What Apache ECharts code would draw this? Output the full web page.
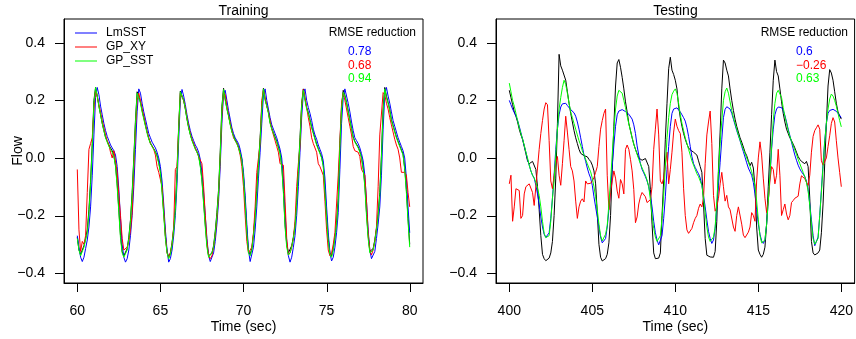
<!DOCTYPE html>
<html><head><meta charset="utf-8">
<script src="https://cdn.jsdelivr.net/npm/echarts@6/dist/echarts.min.js"></script>
<style>html,body{margin:0;padding:0;background:#fff}#c{width:856px;height:339px}</style>
</head><body><div id="c"></div>
<script>
const legendNames = ['LmSST', 'GP_XY', 'GP_SST'];
const panelTitles = ['Training', 'Testing'];
const rmseHeader = 'RMSE reduction';
const rmseTrain = [0.78, 0.68, 0.94];
const rmseTest = [0.6, -0.26, 0.63];
const xTicksTrain = [60, 65, 70, 75, 80];
const xTicksTest = [400, 405, 410, 415, 420];
const yTicks = [-0.4, -0.2, 0, 0.2, 0.4];
const trainStart = 60, testStart = 400, stepSec = 0.1;

const obsTrain = [
-0.275,-0.32,-0.335,-0.33,-0.305,-0.28,-0.25,-0.18,-0.08,0.05,
0.2,0.245,0.215,0.18,0.15,0.12,0.095,0.072,0.058,0.045,
0.035,0.025,0.008,-0.025,-0.09,-0.18,-0.27,-0.325,-0.34,-0.335,
-0.315,-0.275,-0.215,-0.12,0.0,0.13,0.23,0.235,0.195,0.165,
0.14,0.115,0.09,0.068,0.052,0.042,0.032,0.022,0.008,-0.015,
-0.045,-0.11,-0.19,-0.27,-0.325,-0.345,-0.33,-0.295,-0.245,-0.17,
-0.05,0.11,0.232,0.228,0.2,0.17,0.135,0.105,0.082,0.062,
0.048,0.033,0.022,0.008,-0.025,-0.075,-0.15,-0.23,-0.3,-0.34,
-0.345,-0.33,-0.305,-0.255,-0.19,-0.11,0.02,0.18,0.242,0.205,
0.172,0.148,0.118,0.093,0.078,0.063,0.053,0.038,0.018,-0.005,
-0.065,-0.15,-0.25,-0.325,-0.335,-0.315,-0.265,-0.2,-0.11,-0.02,
0.07,0.18,0.242,0.205,0.182,0.158,0.123,0.103,0.088,0.073,
0.058,0.038,0.018,-0.025,-0.11,-0.23,-0.3,-0.33,-0.325,-0.305,
-0.275,-0.235,-0.155,-0.04,0.07,0.19,0.24,0.205,0.175,0.158,
0.133,0.108,0.088,0.068,0.048,0.033,0.018,0.003,-0.025,-0.11,
-0.2,-0.28,-0.33,-0.34,-0.315,-0.275,-0.225,-0.14,0.05,0.18,
0.235,0.218,0.193,0.163,0.133,0.103,0.073,0.058,0.048,0.038,
0.023,0.003,-0.035,-0.09,-0.19,-0.27,-0.325,-0.33,-0.315,-0.285,
-0.245,-0.195,-0.12,0.01,0.17,0.245,0.215,0.193,0.168,0.133,
0.113,0.093,0.073,0.058,0.043,0.028,0.013,-0.035,-0.11,-0.21,
-0.3];
const lmsstTrain = [
-0.27,-0.31,-0.345,-0.36,-0.345,-0.315,-0.285,-0.24,-0.17,-0.06,
0.08,0.21,0.245,0.22,0.18,0.15,0.12,0.095,0.075,0.06,
0.045,0.035,0.025,0.01,-0.03,-0.11,-0.21,-0.3,-0.345,-0.362,
-0.35,-0.32,-0.27,-0.2,-0.1,0.03,0.16,0.24,0.225,0.19,
0.16,0.135,0.11,0.085,0.07,0.055,0.045,0.035,0.02,0.0,
-0.03,-0.08,-0.16,-0.25,-0.32,-0.362,-0.35,-0.32,-0.27,-0.2,
-0.09,0.06,0.2,0.238,0.215,0.185,0.15,0.12,0.095,0.075,
0.06,0.045,0.035,0.02,-0.005,-0.05,-0.12,-0.2,-0.28,-0.34,
-0.36,-0.355,-0.33,-0.29,-0.23,-0.15,-0.03,0.12,0.225,0.235,
0.2,0.165,0.135,0.105,0.085,0.07,0.065,0.05,0.03,0.0,
-0.05,-0.13,-0.23,-0.32,-0.36,-0.355,-0.31,-0.25,-0.17,-0.07,
0.02,0.12,0.22,0.24,0.2,0.17,0.14,0.115,0.1,0.085,
0.07,0.05,0.03,0.0,-0.07,-0.19,-0.29,-0.34,-0.362,-0.345,
-0.31,-0.27,-0.2,-0.1,0.02,0.14,0.225,0.24,0.2,0.175,
0.155,0.13,0.1,0.08,0.065,0.045,0.03,0.015,-0.01,-0.07,
-0.17,-0.26,-0.33,-0.358,-0.345,-0.31,-0.26,-0.19,-0.04,0.12,
0.21,0.24,0.235,0.19,0.16,0.125,0.095,0.07,0.06,0.05,
0.035,0.015,-0.01,-0.06,-0.15,-0.25,-0.32,-0.35,-0.355,-0.325,
-0.28,-0.23,-0.17,-0.06,0.1,0.22,0.245,0.215,0.19,0.16,
0.13,0.11,0.09,0.07,0.055,0.04,0.025,0.0,-0.07,-0.17,
-0.26];
const gpxyTrain = [
-0.04,-0.25,-0.325,-0.29,-0.3,-0.27,-0.12,0.03,0.05,0.07,
0.17,0.232,0.215,0.185,0.16,0.13,0.105,0.08,0.06,0.045,
0.02,0.0,0.025,0.02,-0.05,-0.13,-0.2,-0.28,-0.32,-0.32,
-0.31,-0.29,-0.25,-0.19,-0.04,0.1,0.2,0.225,0.2,0.17,
0.145,0.115,0.09,0.07,0.05,0.04,0.03,0.01,-0.03,-0.05,
-0.055,-0.1,-0.18,-0.27,-0.33,-0.345,-0.33,-0.3,-0.24,-0.04,
-0.03,0.1,0.225,0.23,0.2,0.175,0.14,0.11,0.085,0.065,
0.05,0.035,0.02,0.005,0.0,-0.02,-0.1,-0.2,-0.29,-0.34,
-0.35,-0.34,-0.31,-0.27,-0.21,-0.13,0.0,0.15,0.23,0.22,
0.18,0.15,0.12,0.095,0.07,0.06,0.05,0.035,0.01,-0.03,
-0.1,-0.2,-0.29,-0.33,-0.335,-0.31,-0.26,-0.17,-0.05,0.0,
0.05,0.2,0.238,0.21,0.18,0.16,0.13,0.1,0.08,0.06,
0.04,0.02,-0.02,-0.02,-0.025,-0.15,-0.28,-0.337,-0.33,-0.31,
-0.28,-0.22,-0.1,-0.02,0.04,0.18,0.238,0.21,0.175,0.14,
0.11,0.07,0.05,0.05,0.02,-0.02,-0.03,-0.03,-0.06,-0.15,
-0.25,-0.32,-0.34,-0.33,-0.3,-0.26,-0.16,-0.06,0.06,0.19,
0.227,0.2,0.17,0.14,0.11,0.08,0.04,0.025,0.02,0.02,
0.005,-0.04,-0.05,-0.06,-0.15,-0.26,-0.32,-0.337,-0.32,-0.29,
-0.24,-0.1,0.08,0.085,0.227,0.22,0.19,0.17,0.14,0.115,
0.09,0.065,0.045,0.03,0.0,-0.05,-0.05,-0.05,-0.06,-0.12,
-0.17];
const gpsstTrain = [
-0.28,-0.32,-0.34,-0.335,-0.31,-0.285,-0.26,-0.19,-0.09,0.04,
0.19,0.245,0.215,0.18,0.15,0.12,0.095,0.07,0.055,0.04,
0.03,0.02,0.005,-0.03,-0.1,-0.19,-0.28,-0.33,-0.345,-0.34,
-0.32,-0.28,-0.22,-0.13,-0.01,0.12,0.225,0.23,0.19,0.16,
0.135,0.11,0.085,0.065,0.05,0.04,0.03,0.02,0.005,-0.02,
-0.05,-0.12,-0.2,-0.28,-0.33,-0.35,-0.335,-0.3,-0.25,-0.18,
-0.06,0.1,0.23,0.225,0.2,0.17,0.135,0.105,0.08,0.06,
0.045,0.03,0.02,0.005,-0.03,-0.08,-0.16,-0.24,-0.31,-0.345,
-0.35,-0.33,-0.31,-0.26,-0.2,-0.12,0.01,0.17,0.238,0.2,
0.17,0.145,0.115,0.09,0.075,0.06,0.05,0.035,0.015,-0.01,
-0.07,-0.16,-0.26,-0.33,-0.34,-0.32,-0.27,-0.21,-0.12,-0.03,
0.06,0.17,0.24,0.2,0.18,0.155,0.12,0.1,0.085,0.07,
0.055,0.035,0.015,-0.03,-0.12,-0.24,-0.31,-0.337,-0.33,-0.31,
-0.28,-0.24,-0.16,-0.05,0.06,0.18,0.235,0.2,0.17,0.155,
0.13,0.105,0.085,0.065,0.045,0.03,0.015,0.0,-0.03,-0.12,
-0.21,-0.29,-0.335,-0.345,-0.32,-0.28,-0.23,-0.15,0.04,0.17,
0.228,0.215,0.19,0.16,0.13,0.1,0.07,0.055,0.045,0.035,
0.02,0.0,-0.04,-0.1,-0.2,-0.28,-0.33,-0.335,-0.32,-0.29,
-0.25,-0.2,-0.13,0.0,0.16,0.24,0.21,0.19,0.165,0.13,
0.11,0.09,0.07,0.055,0.04,0.025,0.01,-0.04,-0.12,-0.22,
-0.31];

const obsTest = [
0.235,0.21,0.185,0.16,0.145,0.125,0.1,0.08,0.065,0.04,
0.015,-0.01,-0.02,-0.02,-0.012,-0.008,-0.04,-0.1,-0.18,-0.27,
-0.335,-0.35,-0.357,-0.355,-0.348,-0.33,-0.29,-0.2,-0.07,0.12,
0.36,0.32,0.305,0.3,0.27,0.23,0.19,0.155,0.125,0.095,
0.07,0.05,0.03,0.016,0.012,0.008,0.006,0.004,-0.005,-0.012,
-0.025,-0.045,-0.09,-0.19,-0.3,-0.345,-0.358,-0.36,-0.35,-0.335,
-0.295,-0.2,-0.04,0.11,0.25,0.33,0.342,0.315,0.28,0.24,
0.195,0.16,0.12,0.095,0.07,0.048,0.03,0.015,0.0,-0.005,
-0.008,-0.01,-0.002,0.002,-0.03,-0.11,-0.23,-0.33,-0.35,-0.354,
-0.348,-0.33,-0.2,-0.08,0.065,0.19,0.31,0.35,0.305,0.29,
0.27,0.24,0.18,0.14,0.11,0.085,0.065,0.048,0.035,0.028,
0.022,0.02,0.02,0.01,-0.01,-0.03,-0.05,-0.16,-0.28,-0.338,
-0.342,-0.344,-0.347,-0.345,-0.325,-0.22,-0.04,0.09,0.24,0.34,
0.33,0.305,0.285,0.24,0.2,0.165,0.135,0.11,0.09,0.07,
0.055,0.038,0.02,0.008,-0.01,-0.027,-0.015,-0.035,-0.1,-0.24,
-0.32,-0.335,-0.345,-0.335,-0.31,-0.23,-0.1,0.02,0.15,0.27,
0.34,0.3,0.285,0.24,0.195,0.155,0.125,0.1,0.085,0.07,
0.06,0.048,0.035,0.02,0.005,-0.005,-0.012,-0.015,-0.02,-0.012,
-0.03,-0.14,-0.29,-0.33,-0.337,-0.335,-0.33,-0.32,-0.26,-0.16,
-0.02,0.12,0.25,0.307,0.295,0.27,0.23,0.19,0.16,0.146,
0.135];
const lmsstTest = [
0.2,0.185,0.17,0.158,0.146,0.13,0.11,0.088,0.065,0.042,
0.02,-0.005,-0.025,-0.045,-0.06,-0.07,-0.095,-0.125,-0.16,-0.205,
-0.24,-0.265,-0.276,-0.28,-0.26,-0.21,-0.14,-0.06,0.03,0.1,
0.15,0.177,0.188,0.192,0.19,0.182,0.176,0.168,0.162,0.157,
0.145,0.125,0.1,0.07,0.04,0.01,-0.012,-0.035,-0.055,-0.07,
-0.095,-0.135,-0.17,-0.205,-0.24,-0.275,-0.295,-0.3,-0.28,-0.24,
-0.18,-0.11,-0.03,0.045,0.11,0.15,0.163,0.169,0.168,0.164,
0.161,0.158,0.152,0.146,0.135,0.115,0.085,0.042,0.01,-0.02,
-0.04,-0.052,-0.065,-0.08,-0.1,-0.13,-0.17,-0.22,-0.26,-0.285,
-0.302,-0.305,-0.27,-0.21,-0.135,-0.04,0.04,0.11,0.155,0.17,
0.175,0.174,0.167,0.16,0.15,0.14,0.128,0.105,0.075,0.04,
0.005,-0.02,-0.033,-0.045,-0.055,-0.07,-0.095,-0.13,-0.17,-0.215,
-0.255,-0.28,-0.297,-0.285,-0.245,-0.17,-0.095,-0.015,0.065,0.14,
0.169,0.178,0.18,0.17,0.155,0.135,0.115,0.095,0.078,0.06,
0.04,0.022,0.003,-0.017,-0.035,-0.048,-0.06,-0.085,-0.125,-0.18,
-0.23,-0.265,-0.288,-0.297,-0.285,-0.23,-0.15,-0.065,0.03,0.1,
0.15,0.17,0.177,0.18,0.175,0.165,0.148,0.125,0.1,0.078,
0.055,0.032,0.01,-0.008,-0.025,-0.038,-0.048,-0.056,-0.065,-0.08,
-0.11,-0.16,-0.215,-0.27,-0.305,-0.31,-0.275,-0.2,-0.11,-0.02,
0.06,0.12,0.155,0.165,0.168,0.169,0.168,0.162,0.155,0.148,
0.14];
const gpxyTest = [
-0.09,-0.06,-0.22,-0.17,-0.107,-0.11,-0.113,-0.21,-0.2,-0.125,
-0.1,-0.095,-0.09,-0.085,-0.12,-0.165,-0.1,-0.035,0.03,0.085,
0.13,0.17,0.192,0.185,0.06,-0.08,-0.107,-0.06,-0.02,0.005,
-0.06,-0.095,-0.02,0.06,0.145,0.09,0.03,-0.03,-0.045,-0.08,
-0.15,-0.21,-0.17,-0.15,-0.142,-0.153,-0.08,-0.09,-0.095,-0.088,
-0.08,-0.068,-0.05,-0.03,0.04,0.1,0.13,0.155,0.17,-0.06,
-0.18,-0.12,-0.08,-0.045,-0.07,-0.115,-0.14,-0.075,-0.09,-0.125,
0.03,0.045,0.03,-0.005,-0.045,-0.11,-0.225,-0.205,-0.16,-0.135,
-0.12,-0.122,-0.135,-0.155,-0.158,-0.145,-0.1,0.03,0.1,0.17,
0.08,-0.08,-0.09,-0.07,-0.027,0.02,-0.09,-0.04,0.02,0.09,
0.135,0.11,0.095,0.085,0.02,-0.107,-0.2,-0.25,-0.262,-0.258,
-0.245,-0.225,-0.21,-0.2,-0.175,-0.16,-0.17,-0.14,-0.02,0.08,
0.125,0.163,0.05,-0.13,-0.185,-0.17,-0.14,-0.09,-0.05,-0.1,
-0.15,-0.13,-0.17,-0.18,-0.185,-0.24,-0.255,-0.2,-0.17,-0.175,
-0.23,-0.268,-0.277,-0.278,-0.258,-0.24,-0.19,-0.2,-0.22,-0.08,
0.0,0.056,0.01,-0.07,-0.14,-0.19,-0.15,-0.08,-0.03,-0.04,
-0.09,-0.06,0.03,-0.06,-0.2,-0.18,-0.16,-0.195,-0.215,-0.2,
-0.155,-0.148,-0.14,-0.135,-0.133,-0.09,-0.062,-0.065,-0.072,-0.085,
-0.095,-0.06,0.02,0.075,0.095,0.105,0.115,0.1,-0.01,-0.025,
-0.022,0.0,0.04,0.077,0.12,0.14,0.125,0.06,0.0,-0.05,
-0.1];
const gpsstTest = [
0.26,0.23,0.2,0.18,0.155,0.13,0.105,0.085,0.065,0.045,
0.02,0.0,-0.025,-0.045,-0.06,-0.07,-0.085,-0.105,-0.13,-0.17,
-0.22,-0.262,-0.277,-0.278,-0.27,-0.22,-0.14,-0.08,0.01,0.1,
0.17,0.21,0.245,0.27,0.255,0.225,0.19,0.16,0.14,0.12,
0.1,0.08,0.06,0.045,0.025,0.01,-0.005,-0.02,-0.035,-0.048,
-0.07,-0.1,-0.135,-0.18,-0.23,-0.27,-0.288,-0.29,-0.265,-0.235,
-0.16,-0.08,0.01,0.1,0.17,0.215,0.235,0.24,0.225,0.2,
0.175,0.145,0.118,0.095,0.07,0.048,0.03,0.012,-0.005,-0.02,
-0.035,-0.048,-0.06,-0.077,-0.1,-0.145,-0.2,-0.245,-0.275,-0.29,
-0.288,-0.27,-0.21,-0.13,-0.03,0.07,0.14,0.19,0.22,0.232,
0.24,0.225,0.19,0.15,0.12,0.095,0.07,0.05,0.03,0.01,
-0.01,-0.025,-0.04,-0.055,-0.065,-0.08,-0.095,-0.14,-0.19,-0.24,
-0.275,-0.29,-0.288,-0.275,-0.24,-0.15,-0.05,0.05,0.13,0.2,
0.23,0.243,0.225,0.195,0.165,0.14,0.12,0.1,0.08,0.062,
0.045,0.03,0.015,0.0,-0.015,-0.03,-0.048,-0.07,-0.095,-0.15,
-0.215,-0.27,-0.295,-0.3,-0.285,-0.23,-0.15,-0.06,0.04,0.13,
0.19,0.225,0.235,0.238,0.21,0.175,0.145,0.12,0.095,0.075,
0.058,0.042,0.028,0.012,-0.005,-0.02,-0.035,-0.05,-0.065,-0.085,
-0.115,-0.165,-0.23,-0.28,-0.3,-0.295,-0.28,-0.2,-0.12,-0.03,
0.055,0.12,0.17,0.205,0.222,0.215,0.2,0.18,0.155,0.13,
0.108];

const FONT = '"Liberation Sans", Arial, Helvetica, sans-serif';
const COLORS = { obs: '#000000', lm: '#0000FF', xy: '#FF0000', sst: '#00FF00' };
const legendColors = [COLORS.lm, COLORS.xy, COLORS.sst];
const X_RANGES = [[59.2, 80.8], [399.2, 420.8]];
const Y_RANGE = [-0.4345, 0.4828];
const TICK_LEN = 9;

function pairs(start, arr) {
  return arr.map((v, i) => [+(start + i * stepSec).toFixed(1), v]);
}
function fmt(v) {
  const s = String(Math.abs(v));
  return (v < 0 ? '\u2212' : '') + (s.indexOf('.') < 0 ? s + '.0' : s);
}
function fmtNum(v) { return (v < 0 ? '\u2212' : '') + String(Math.abs(v)); }

const GRID_TOP = 19, GRID_H = 266, GRID_W = 359;
const GRID_LEFT = [64, 496];
const grids = GRID_LEFT.map(l => ({ left: l, top: GRID_TOP, width: GRID_W, height: GRID_H,
  show: true, borderColor: '#000', borderWidth: 1, backgroundColor: 'transparent' }));

function xAxisCfg(idx, ticks) {
  return {
    type: 'value', gridIndex: idx, min: X_RANGES[idx][0], max: X_RANGES[idx][1], position: 'bottom',
    name: 'Time (sec)', nameLocation: 'middle', nameGap: 37, nameMoveOverlap: false,
    nameTextStyle: { fontSize: 14, color: '#000', fontFamily: FONT },
    axisLine: { show: true, onZero: false, lineStyle: { color: '#000', width: 1 } },
    axisTick: { show: false },
    axisLabel: { customValues: ticks, margin: 21, fontSize: 14, color: '#000', fontFamily: FONT,
                 formatter: v => String(v) },
    splitLine: { show: false }
  };
}
function yAxisCfg(idx, withName) {
  return {
    type: 'value', gridIndex: idx, min: Y_RANGE[0], max: Y_RANGE[1], position: 'left',
    name: withName ? 'Flow' : '', nameLocation: 'middle', nameGap: 39, nameRotate: 90, nameMoveOverlap: false,
    nameTextStyle: { fontSize: 14, color: '#000', fontFamily: FONT },
    axisLine: { show: true, onZero: false, lineStyle: { color: '#000', width: 1 } },
    axisTick: { show: false },
    axisLabel: { customValues: yTicks, margin: 19, fontSize: 14, color: '#000', fontFamily: FONT,
                 formatter: v => fmt(+(+v).toFixed(1)) },
    splitLine: { show: false }
  };
}

function lineSeries(name, idx, data, color) {
  return {
    type: 'line', name: name, xAxisIndex: idx, yAxisIndex: idx, data: data,
    symbol: 'none', showSymbol: false, smooth: false, clip: true,
    color: color,
    lineStyle: { color: color, width: 1 }, itemStyle: { color: color },
    emphasis: { disabled: true }, silent: true
  };
}

// Tick marks drawn through the axis scales (api.coord), outside the plot box
function tickSeries(idx, values, isX) {
  return {
    type: 'custom', xAxisIndex: idx, yAxisIndex: idx, clip: false, silent: true, z: 10,
    data: values.map(v => isX ? [v, Y_RANGE[0]] : [X_RANGES[idx][0], v]),
    renderItem: (params, api) => {
      const p = api.coord([api.value(0), api.value(1)]);
      if (isX) {
        const x = Math.round(p[0]) + 0.5;
        return { type: 'line', shape: { x1: x, y1: p[1], x2: x, y2: p[1] + TICK_LEN },
                 style: { stroke: '#000', lineWidth: 1 } };
      }
      const y = Math.round(p[1]) + 0.5;
      return { type: 'line', shape: { x1: p[0] - TICK_LEN, y1: y, x2: p[0], y2: y },
               style: { stroke: '#000', lineWidth: 1 } };
    }
  };
}

const series = [
  lineSeries('Observed', 0, pairs(trainStart, obsTrain), COLORS.obs),
  lineSeries(legendNames[0], 0, pairs(trainStart, lmsstTrain), COLORS.lm),
  lineSeries(legendNames[1], 0, pairs(trainStart, gpxyTrain), COLORS.xy),
  lineSeries(legendNames[2], 0, pairs(trainStart, gpsstTrain), COLORS.sst),
  lineSeries('Observed', 1, pairs(testStart, obsTest), COLORS.obs),
  lineSeries(legendNames[0], 1, pairs(testStart, lmsstTest), COLORS.lm),
  lineSeries(legendNames[1], 1, pairs(testStart, gpxyTest), COLORS.xy),
  lineSeries(legendNames[2], 1, pairs(testStart, gpsstTest), COLORS.sst),
  tickSeries(0, xTicksTrain, true), tickSeries(1, xTicksTest, true),
  tickSeries(0, yTicks, false), tickSeries(1, yTicks, false)
];

function txt(x, y, s, color, align, size) {
  return { type: 'text', x: x, y: y, silent: true, z: 100,
    style: { text: s, fill: color, font: size + 'px ' + FONT, textAlign: align, textVerticalAlign: 'middle' } };
}
const graphic = [
  txt(243.5, 11.5, panelTitles[0], '#000', 'center', 14),
  txt(675.5, 11.5, panelTitles[1], '#000', 'center', 14),
  txt(416, 33, rmseHeader, '#000', 'right', 12),
  txt(848, 33, rmseHeader, '#000', 'right', 12)
];
const rowY = [52, 65.5, 79];
rmseTrain.forEach((v, i) => graphic.push(txt(348, rowY[i], fmtNum(v), legendColors[i], 'left', 12)));
rmseTest.forEach((v, i) => graphic.push(txt(796, rowY[i], fmtNum(v), legendColors[i], 'left', 12)));

const chart = echarts.init(document.getElementById('c'), null, { renderer: 'canvas' });
chart.setOption({
  animation: false,
  backgroundColor: '#fff',
  grid: grids,
  xAxis: [xAxisCfg(0, xTicksTrain), xAxisCfg(1, xTicksTest)],
  yAxis: [yAxisCfg(0, true), yAxisCfg(1, false)],
  legend: {
    data: legendNames.map((n, i) => ({ name: n, itemStyle: { color: legendColors[i] } })),
    orient: 'vertical', left: 75, top: 27, padding: 0,
    icon: 'rect', itemWidth: 22, itemHeight: 1, itemGap: 2, selectedMode: false,
    textStyle: { fontSize: 12, color: '#000', fontFamily: FONT, padding: [0, 0, 0, 4], lineHeight: 12 }
  },
  graphic: graphic,
  series: series
});
</script></body></html>
